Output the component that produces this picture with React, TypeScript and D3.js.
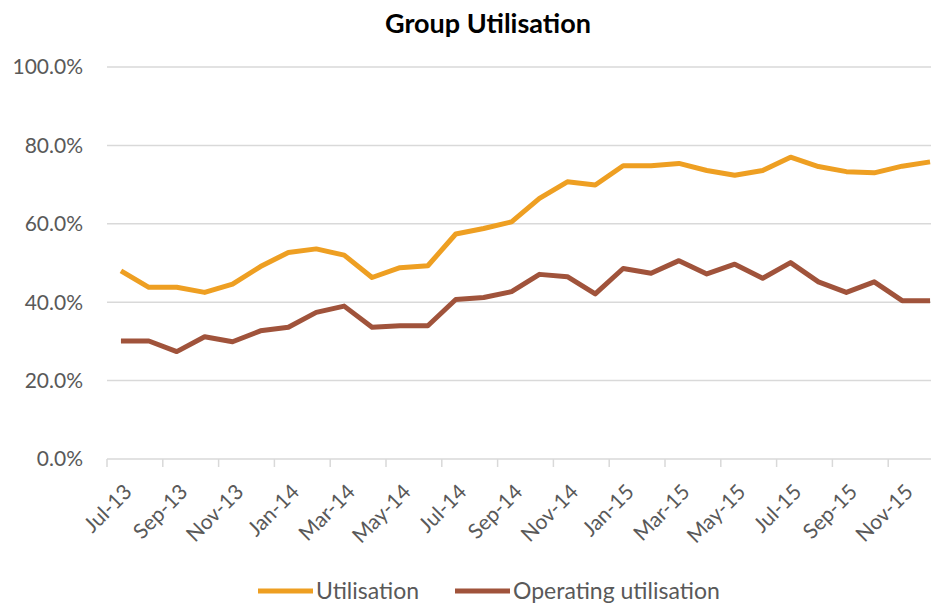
import { useEffect, useRef } from "react";
import * as d3 from "d3";

const months = [
  "Jul-13", "Aug-13", "Sep-13", "Oct-13", "Nov-13", "Dec-13",
  "Jan-14", "Feb-14", "Mar-14", "Apr-14", "May-14", "Jun-14",
  "Jul-14", "Aug-14", "Sep-14", "Oct-14", "Nov-14", "Dec-14",
  "Jan-15", "Feb-15", "Mar-15", "Apr-15", "May-15", "Jun-15",
  "Jul-15", "Aug-15", "Sep-15", "Oct-15", "Nov-15", "Dec-15",
];

const utilisation = [
  48.0, 43.8, 43.8, 42.5, 44.6, 49.1, 52.7, 53.6, 52.0, 46.3,
  48.8, 49.3, 57.4, 58.8, 60.5, 66.5, 70.7, 69.9, 74.8, 74.8,
  75.4, 73.6, 72.4, 73.6, 77.0, 74.6, 73.3, 73.0, 74.7, 75.8,
];

const operating = [
  30.1, 30.1, 27.4, 31.2, 29.9, 32.7, 33.6, 37.4, 39.0, 33.6,
  34.0, 34.0, 40.7, 41.2, 42.7, 47.1, 46.5, 42.1, 48.6, 47.4,
  50.6, 47.2, 49.7, 46.1, 50.1, 45.2, 42.5, 45.2, 40.4, 40.4,
];

const yTicks = [0, 20, 40, 60, 80, 100];

const series = [
  { name: "Utilisation", values: utilisation, color: "#EE9F22" },
  { name: "Operating utilisation", values: operating, color: "#A0533B" },
];

export default function App() {
  const svgRef = useRef(null);

  useEffect(() => {
    const width = 931;
    const height = 604;
    const font = "Lato, 'Open Sans', sans-serif";

    d3.select(svgRef.current).selectAll("*").remove();

    const svg = d3
      .select(svgRef.current)
      .attr("width", width)
      .attr("height", height)
      .style("background", "#fff");

    const x = d3
      .scaleBand()
      .domain(months)
      .range([107, 107 + months.length * 27.9])
      .padding(0);

    const y = d3.scaleLinear().domain([0, 100]).range([459, 67]);

    svg
      .append("text")
      .attr("x", 488)
      .attr("y", 33)
      .attr("text-anchor", "middle")
      .style("font-family", font)
      .style("font-weight", "bold")
      .style("font-size", "27px")
      .attr("fill", "#000")
      .text("Group Utilisation");

    // gridlines + y labels
    svg
      .append("g")
      .selectAll("line")
      .data(yTicks)
      .enter()
      .append("line")
      .attr("x1", 107)
      .attr("x2", width)
      .attr("y1", d => y(d))
      .attr("y2", d => y(d))
      .attr("stroke", "#d9d9d9")
      .attr("stroke-width", 1.5);

    svg
      .append("g")
      .selectAll("text")
      .data(yTicks)
      .enter()
      .append("text")
      .attr("x", 83)
      .attr("y", d => y(d))
      .attr("dy", "0.35em")
      .attr("text-anchor", "end")
      .style("font-family", font)
      .style("font-size", "21px")
      .attr("fill", "#595959")
      .text(d => d.toFixed(1) + "%");

    // x tick marks every two months
    const tickMonths = months.filter((_, i) => i % 2 === 0);
    svg
      .append("g")
      .selectAll("line")
      .data(tickMonths)
      .enter()
      .append("line")
      .attr("x1", d => x(d))
      .attr("x2", d => x(d))
      .attr("y1", 459)
      .attr("y2", 467)
      .attr("stroke", "#d9d9d9")
      .attr("stroke-width", 1.5);

    svg
      .append("g")
      .selectAll("text")
      .data(tickMonths)
      .enter()
      .append("text")
      .attr(
        "transform",
        d => `translate(${x(d) + x.bandwidth() / 2 + 7}, 488) rotate(-45)`
      )
      .attr("text-anchor", "end")
      .attr("dy", "0.35em")
      .style("font-family", font)
      .style("font-size", "21px")
      .attr("fill", "#595959")
      .text(d => d);

    const line = d3
      .line()
      .x((_, i) => x(months[i]) + x.bandwidth() / 2)
      .y(d => y(d));

    svg
      .append("g")
      .selectAll("path")
      .data(series)
      .enter()
      .append("path")
      .attr("d", d => line(d.values))
      .attr("fill", "none")
      .attr("stroke", d => d.color)
      .attr("stroke-width", 5)
      .attr("stroke-linejoin", "round");

    // legend
    const legend = svg
      .append("g")
      .selectAll("g")
      .data(series)
      .enter()
      .append("g")
      .attr("transform", (_, i) => `translate(${i === 0 ? 258 : 455}, 591)`);

    legend
      .append("line")
      .attr("x1", 0)
      .attr("x2", 55)
      .attr("stroke", d => d.color)
      .attr("stroke-width", 5);

    legend
      .append("text")
      .attr("x", 58)
      .attr("dy", "0.35em")
      .style("font-family", font)
      .style("font-size", "23px")
      .attr("fill", "#595959")
      .text(d => d.name);
  }, []);

  return (
    <svg
      ref={svgRef}
      style={{ position: "absolute", left: 0, top: 0, display: "block" }}
    ></svg>
  );
}
